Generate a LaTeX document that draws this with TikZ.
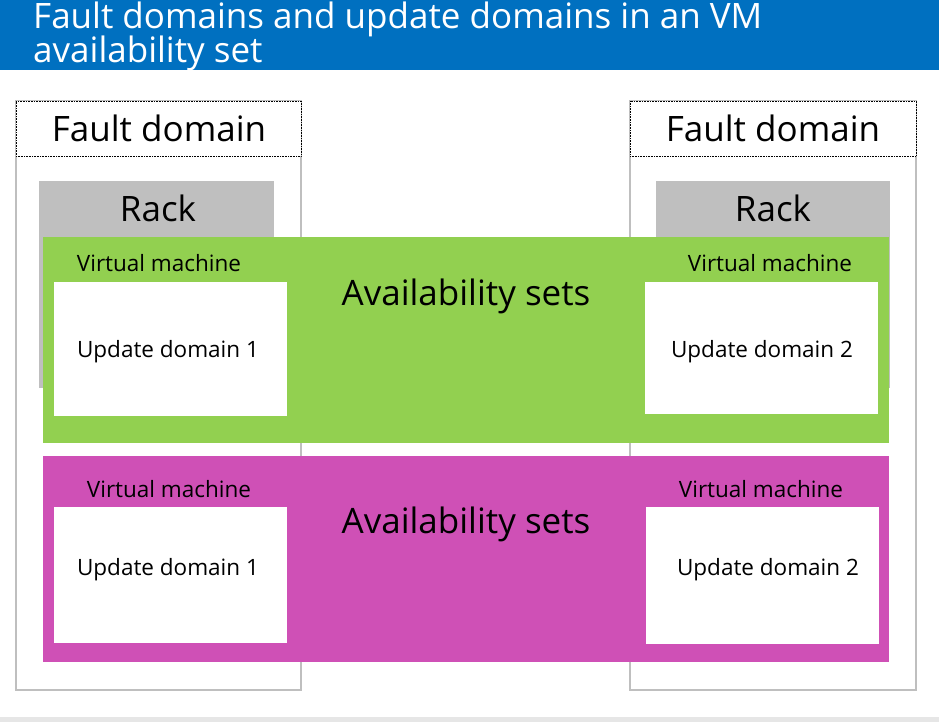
\documentclass[tikz,border=0pt]{standalone}
\usepackage{fontspec}
\setmainfont{Open Sans}
\definecolor{titleblue}{RGB}{0,112,192}
\definecolor{panelgray}{RGB}{191,191,191}
\definecolor{rackgray}{RGB}{191,191,191}
\definecolor{setgreen}{RGB}{146,208,80}
\definecolor{setpink}{RGB}{207,80,182}
\definecolor{stripgray}{RGB}{230,230,230}

\begin{document}
\begin{tikzpicture}[x=1pt,y=-1pt,
    blk/.style={anchor=north west, inner sep=0pt, outer sep=0pt},
    panel/.style={blk, draw=panelgray, line width=2pt, fill=white},
    header/.style={blk, draw=black, densely dotted, line width=0.6pt, fill=white},
    rackbox/.style={blk, fill=rackgray},
    vmbox/.style={blk, fill=white},
    title/.style={anchor=base west, inner xsep=0pt, text=white, font=\fontsize{35}{40}\selectfont},
    big/.style={anchor=base, font=\fontsize{35}{40}\selectfont},
    small/.style={anchor=base, font=\fontsize{22.5}{26}\selectfont}]
    \useasboundingbox (0,0) rectangle (939,722);

    % title bar
    \fill[titleblue] (0,0) rectangle (939,70);
    \node[title] (title1) at (33,29) {Fault domains and update domains in an VM};
    \node[title] (title2) at (33,63) {availability set};
    \fill[stripgray] (0,717) rectangle (939,722);

    % fault domains
    \node[panel, minimum width=285, minimum height=589] (fdL) at (16,101) {};
    \node[panel, minimum width=286, minimum height=589] (fdR) at (630,101) {};
    \node[header, minimum width=285, minimum height=55] (fdLhead) at (16,101) {};
    \node[header, minimum width=286, minimum height=55] (fdRhead) at (630,101) {};
    \node[big] (fdLtext) at (159,142) {Fault domain};
    \node[big] (fdRtext) at (773,142) {Fault domain};

    % racks
    \node[rackbox, minimum width=235, minimum height=207] (rackL) at (39,181) {};
    \node[rackbox, minimum width=234, minimum height=207] (rackR) at (656,181) {};
    \node[big] (rackLtext) at (158,222) {Rack};
    \node[big] (rackRtext) at (773,222) {Rack};

    % availability sets
    \node[blk, fill=setgreen, minimum width=846, minimum height=206] (setA) at (43,237) {};
    \node[blk, fill=setpink, minimum width=846, minimum height=206] (setB) at (43,456) {};
    \node[big] (setAtext) at (466,305) {Availability sets};
    \node[big] (setBtext) at (466,533) {Availability sets};

    % virtual machines
    \node[vmbox, minimum width=233, minimum height=134] (vmA1) at (54,282) {};
    \node[vmbox, minimum width=233, minimum height=132] (vmA2) at (645,282) {};
    \node[vmbox, minimum width=233, minimum height=136] (vmB1) at (54,507) {};
    \node[vmbox, minimum width=233, minimum height=137] (vmB2) at (646,507) {};
    \node[small] (vmA1label) at (159,271) {Virtual machine};
    \node[small] (vmA2label) at (770,271) {Virtual machine};
    \node[small] (vmB1label) at (169,497) {Virtual machine};
    \node[small] (vmB2label) at (761,497) {Virtual machine};
    \node[small] (udA1) at (168,357) {Update domain 1};
    \node[small] (udA2) at (762,357) {Update domain 2};
    \node[small] (udB1) at (168,575) {Update domain 1};
    \node[small] (udB2) at (768,575) {Update domain 2};
\end{tikzpicture}
\end{document}
